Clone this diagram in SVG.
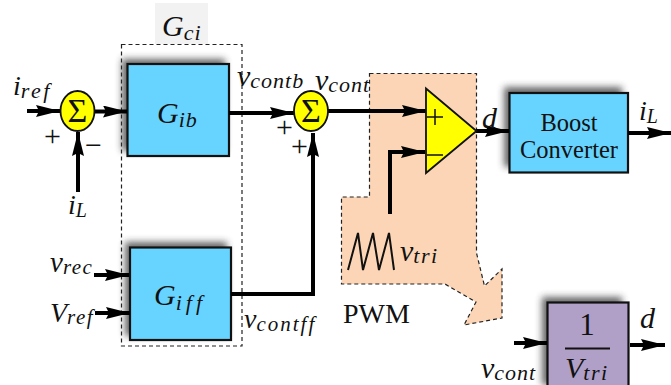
<svg xmlns="http://www.w3.org/2000/svg" width="671" height="385" viewBox="0 0 671 385">
<style>
.m{font-family:"Liberation Serif",serif;font-style:italic;fill:#111}
.t{font-family:"Liberation Serif",serif;fill:#111}
.b{fill:#66d4ff;stroke:#111;stroke-width:2.2}
.w{fill:none;stroke:#000;stroke-width:4}
.d{fill:none;stroke:#222;stroke-width:1.2;stroke-dasharray:4 3}
.y{fill:#ffff00;stroke:#111;stroke-width:1.8}
.sh{fill:#333;opacity:.75;filter:url(#bl)}
</style>
<defs>
<filter id="bl" x="-20%" y="-20%" width="140%" height="140%"><feGaussianBlur stdDeviation="3.5"/></filter>
<marker id="a" markerUnits="userSpaceOnUse" markerWidth="25" markerHeight="14" refX="24" refY="6" orient="auto"><path d="M0 0L24 6L0 12L3 6Z" fill="#000"/></marker>
</defs>

<g id="gci-label">
<rect x="155" y="3" width="53" height="41" fill="#f2f2f2"/>
<text class="m" x="162" y="36" font-size="30">G<tspan font-size="22" dy="4" letter-spacing="1">ci</tspan></text>
</g>
<rect id="gci-box" class="d" x="121.500" y="44.500" width="120.500" height="301.500"/>

<g id="pwm">
<path d="M369.500 73.500H476.500V253L484.500 286L502 269V318L464 325L476 302L445 284H341.500V197H369.500Z" fill="#fbd5b5" stroke="#222" stroke-width="1.200" stroke-dasharray="4 3"/>
<text class="t" x="343" y="323" font-size="28">PWM</text>
</g>

<g id="gib">
<rect class="sh" x="122" y="59" width="103" height="92"/>
<rect class="b" x="127.500" y="64" width="101.500" height="92"/>
<text class="m" x="157" y="123" font-size="30">G<tspan font-size="22" dy="4" letter-spacing="1">ib</tspan></text>
</g>
<g id="giff">
<rect class="sh" x="125" y="242" width="102" height="94"/>
<rect class="b" x="130" y="247.500" width="101" height="92.500"/>
<text class="m" x="154" y="305" font-size="30">G<tspan font-size="22" dy="5" letter-spacing="4">iff</tspan></text>
</g>
<g id="boost">
<rect class="sh" x="504" y="87" width="118" height="80"/>
<rect class="b" x="509.500" y="93" width="118.500" height="79.500"/>
<text class="t" x="569" y="131" font-size="24.500" text-anchor="middle">Boost</text>
<text class="t" x="569" y="158" font-size="24.500" text-anchor="middle">Converter</text>
</g>
<g id="gain">
<rect class="sh" x="542" y="297" width="80" height="88"/>
<rect x="547.500" y="302.500" width="81" height="90" fill="#b09fc6" stroke="#111" stroke-width="2.200"/>
<text class="t" x="587" y="335" font-size="31" text-anchor="middle">1</text>
<path d="M565 348.500H610" stroke="#111" stroke-width="2"/>
<text class="m" x="565" y="378" font-size="30">V<tspan font-size="22" dy="2" letter-spacing="1.500">tri</tspan></text>
</g>

<g id="connectors">
<path class="w" d="M27 111H60" marker-end="url(#a)"/>
<path class="w" d="M94 111.500H127" marker-end="url(#a)"/>
<path class="w" d="M78 192V132" marker-end="url(#a)"/>
<path class="w" d="M229 113H294" marker-end="url(#a)"/>
<path class="w" d="M231 294H313V133" marker-end="url(#a)"/>
<path class="w" d="M328 111H426" marker-end="url(#a)"/>
<path class="w" d="M390 214V152H425" marker-end="url(#a)"/>
<path class="w" d="M476 131H509" marker-end="url(#a)"/>
<path class="w" d="M628 133H671" marker-end="url(#a)"/>
<path class="w" d="M94 275H129" marker-end="url(#a)"/>
<path class="w" d="M95 313H130" marker-end="url(#a)"/>
<path class="w" d="M514 343H547" marker-end="url(#a)"/>
<path class="w" d="M630 345H665" marker-end="url(#a)"/>
</g>

<g id="sum1">
<ellipse class="y" cx="77.500" cy="111" rx="17" ry="20"/>
<text class="t" x="77.500" y="122" font-size="34" text-anchor="middle" fill="#000">Σ</text>
</g>
<g id="sum2">
<ellipse class="y" cx="311" cy="111" rx="17" ry="20"/>
<text class="t" x="311" y="122" font-size="34" text-anchor="middle" fill="#000">Σ</text>
</g>
<g id="comparator">
<path d="M426 88.500L476.500 131L426 173Z" fill="#ffff00" stroke="#111" stroke-width="1.800"/>
<path d="M427 117H443M435 109V125M427 155H443" stroke="#111" stroke-width="1.500" fill="none"/>
</g>
<path id="triangle-wave" d="M348 270L358 233L363 270L373 233L379 270L389 233L394 270" fill="none" stroke="#111" stroke-width="2"/>

<g id="labels">
<text class="m" x="13" y="95" font-size="28">i<tspan font-size="22" dy="3" letter-spacing="2.500">ref</tspan></text>
<text class="t" x="44" y="146" font-size="30">+</text>
<text class="t" x="85" y="155" font-size="30">−</text>
<text class="m" x="68" y="214" font-size="28">i<tspan font-size="20" dy="3">L</tspan></text>
<text class="m" x="237" y="86" font-size="30">v<tspan font-size="22" dy="2" letter-spacing="1">contb</tspan></text>
<text class="m" x="315" y="90" font-size="30">v<tspan font-size="22" dy="2" letter-spacing="1">cont</tspan></text>
<text class="t" x="276" y="137" font-size="30">+</text>
<text class="t" x="291" y="156" font-size="30">+</text>
<text class="m" x="50" y="272" font-size="29">v<tspan font-size="21" dy="2" letter-spacing="1.500">rec</tspan></text>
<text class="m" x="50" y="322" font-size="28">V<tspan font-size="21" dy="2" letter-spacing="1.500">ref</tspan></text>
<text class="m" x="244" y="328" font-size="28">v<tspan font-size="21" dy="3" letter-spacing="2">contff</tspan></text>
<text class="m" x="400" y="261" font-size="30">v<tspan font-size="22" dy="2" letter-spacing="1.500">tri</tspan></text>
<text class="m" x="482" y="128" font-size="30">d</text>
<text class="m" x="639" y="120" font-size="28">i<tspan font-size="20" dy="3">L</tspan></text>
<text class="m" x="640" y="328" font-size="30">d</text>
<text class="m" x="481" y="378" font-size="30">v<tspan font-size="22" dy="2" letter-spacing="1">cont</tspan></text>
</g>
</svg>
